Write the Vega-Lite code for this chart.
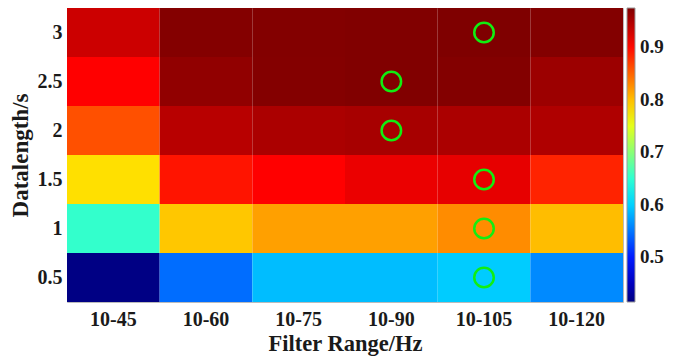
{
  "$schema": "https://vega.github.io/schema/vega-lite/v6.json",
  "width": 556,
  "height": 294,
  "autosize": {"type": "none"},
  "padding": {"left": 67, "top": 8, "right": 55, "bottom": 56},
  "background": "white",
  "config": {
    "view": {"stroke": "#bbbbbb", "strokeWidth": 1},
    "font": "Liberation Serif",
    "axis": {"labelFont": "Liberation Serif", "titleFont": "Liberation Serif", "labelFontWeight": "bold", "titleFontWeight": "bold", "labelColor": "#1a1a1a", "titleColor": "#1a1a1a", "domain": false, "ticks": false, "grid": false},
    "legend": {"labelFont": "Liberation Serif", "labelFontWeight": "bold", "labelColor": "#1a1a1a"}
  },
  "data": {
    "values": [
      {"range": "10-45", "len": "3", "acc": 0.933, "best": 0},
      {"range": "10-60", "len": "3", "acc": 0.972, "best": 0},
      {"range": "10-75", "len": "3", "acc": 0.973, "best": 0},
      {"range": "10-90", "len": "3", "acc": 0.974, "best": 0},
      {"range": "10-105", "len": "3", "acc": 0.975, "best": 1},
      {"range": "10-120", "len": "3", "acc": 0.973, "best": 0},
      {"range": "10-45", "len": "2.5", "acc": 0.905, "best": 0},
      {"range": "10-60", "len": "2.5", "acc": 0.965, "best": 0},
      {"range": "10-75", "len": "2.5", "acc": 0.972, "best": 0},
      {"range": "10-90", "len": "2.5", "acc": 0.974, "best": 1},
      {"range": "10-105", "len": "2.5", "acc": 0.973, "best": 0},
      {"range": "10-120", "len": "2.5", "acc": 0.959, "best": 0},
      {"range": "10-45", "len": "2", "acc": 0.861, "best": 0},
      {"range": "10-60", "len": "2", "acc": 0.944, "best": 0},
      {"range": "10-75", "len": "2", "acc": 0.951, "best": 0},
      {"range": "10-90", "len": "2", "acc": 0.953, "best": 1},
      {"range": "10-105", "len": "2", "acc": 0.951, "best": 0},
      {"range": "10-120", "len": "2", "acc": 0.949, "best": 0},
      {"range": "10-45", "len": "1.5", "acc": 0.782, "best": 0},
      {"range": "10-60", "len": "1.5", "acc": 0.894, "best": 0},
      {"range": "10-75", "len": "1.5", "acc": 0.905, "best": 0},
      {"range": "10-90", "len": "1.5", "acc": 0.916, "best": 0},
      {"range": "10-105", "len": "1.5", "acc": 0.918, "best": 1},
      {"range": "10-120", "len": "1.5", "acc": 0.886, "best": 0},
      {"range": "10-45", "len": "1", "acc": 0.653, "best": 0},
      {"range": "10-60", "len": "1", "acc": 0.796, "best": 0},
      {"range": "10-75", "len": "1", "acc": 0.817, "best": 0},
      {"range": "10-90", "len": "1", "acc": 0.817, "best": 0},
      {"range": "10-105", "len": "1", "acc": 0.828, "best": 1},
      {"range": "10-120", "len": "1", "acc": 0.801, "best": 0},
      {"range": "10-45", "len": "0.5", "acc": 0.418, "best": 0},
      {"range": "10-60", "len": "0.5", "acc": 0.545, "best": 0},
      {"range": "10-75", "len": "0.5", "acc": 0.589, "best": 0},
      {"range": "10-90", "len": "0.5", "acc": 0.589, "best": 0},
      {"range": "10-105", "len": "0.5", "acc": 0.597, "best": 1},
      {"range": "10-120", "len": "0.5", "acc": 0.561, "best": 0}
    ]
  },
  "encoding": {
    "x": {
      "field": "range", "type": "ordinal",
      "sort": ["10-45", "10-60", "10-75", "10-90", "10-105", "10-120"],
      "scale": {"paddingInner": 0, "paddingOuter": 0},
      "axis": {"title": "Filter Range/Hz", "labelAngle": 0, "labelFontSize": 20, "titleFontSize": 22.5, "labelPadding": 7, "titlePadding": 3}
    },
    "y": {
      "field": "len", "type": "ordinal",
      "sort": ["3", "2.5", "2", "1.5", "1", "0.5"],
      "scale": {"paddingInner": 0, "paddingOuter": 0},
      "axis": {"title": "Datalength/s", "labelFontSize": 20, "titleFontSize": 23, "labelPadding": 5, "titlePadding": 5}
    }
  },
  "layer": [
    {
      "mark": {"type": "rect"},
      "encoding": {
        "color": {
          "field": "acc", "type": "quantitative",
          "scale": {
            "domain": [0.415, 0.485, 0.625, 0.765, 0.905, 0.975],
            "range": ["#00007f", "#0000ff", "#00ffff", "#ffff00", "#ff0000", "#7f0000"],
            "interpolate": "rgb"
          },
          "legend": {
            "title": null,
            "orient": "none",
            "legendX": 560,
            "legendY": 0,
            "direction": "vertical",
            "gradientLength": 294,
            "gradientThickness": 8,
            "gradientStrokeColor": "#999999",
            "gradientStrokeWidth": 1,
            "values": [0.5, 0.6, 0.7, 0.8, 0.9],
            "format": ".1f",
            "labelFontSize": 19,
            "labelOffset": 5,
            "tickCount": 5
          }
        }
      }
    },
    {
      "transform": [{"filter": "datum.best == 1"}],
      "mark": {"type": "point", "shape": "circle", "filled": false, "stroke": "#11ee11", "strokeWidth": 2.5, "size": 380, "opacity": 1}
    }
  ]
}
